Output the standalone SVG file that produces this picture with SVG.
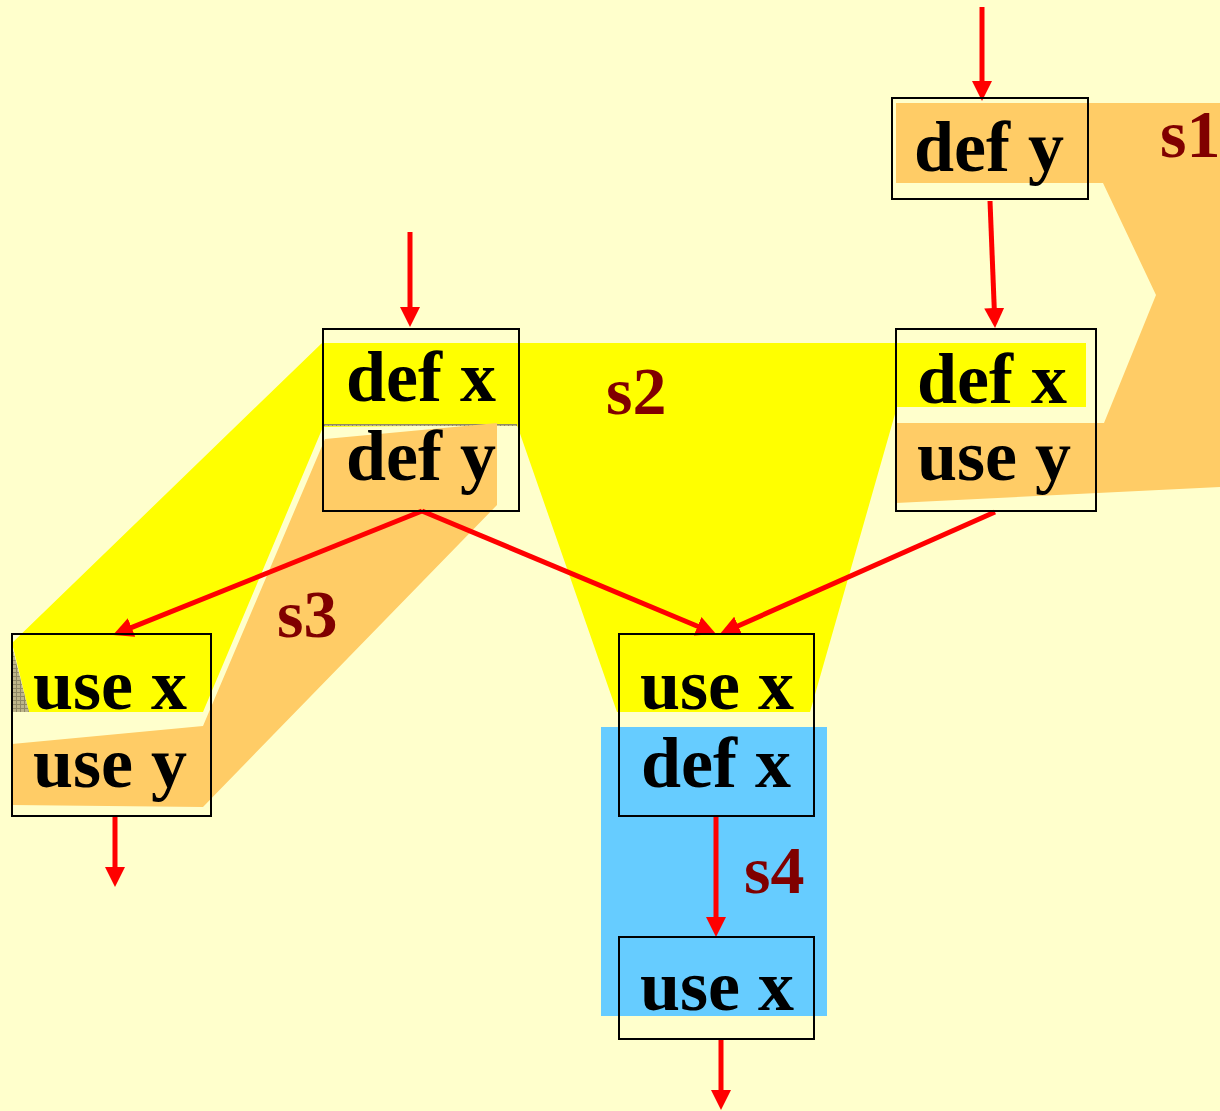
<svg xmlns="http://www.w3.org/2000/svg" width="1220" height="1111" viewBox="0 0 1220 1111">
<style>
.box{fill:none;stroke:#000;stroke-width:2}
.t{font-family:"Liberation Serif","Times New Roman",serif;font-weight:bold;font-size:72px;fill:#000}
.lbl{font-family:"Liberation Serif","Times New Roman",serif;font-weight:bold;font-size:68px;fill:#800000}
.arr{stroke:#FF0000;stroke-width:5;fill:none;marker-end:url(#ah)}
</style>
<defs>
<marker id="ah" markerUnits="userSpaceOnUse" markerWidth="22" markerHeight="22" refX="9" refY="10" orient="auto">
<path d="M0,0 L20,10 L0,20 z" fill="#FF0000"/>
</marker>
<pattern id="hatch" patternUnits="userSpaceOnUse" width="4" height="4">
<rect width="4" height="4" fill="#BDB58A"/>
<path d="M0,0.5 H4 M0.5,0 V4" stroke="#8F8866" stroke-width="1"/>
</pattern>
</defs>
<rect width="1220" height="1111" fill="#FFFFCC"/>
<g id="regions">
<polygon id="s1" points="896,103 1220,103 1220,487 896,503 896,423 1104,423 1156,295 1103,183 896,183" fill="#FFCC66"/>
<polygon id="s2" points="322,343 1086,343 1086,407 897,407 810,712 617,712 517,425 323,427 203,712 29,712 12,643" fill="#FFFF00"/>
<polygon id="hatchArea" points="12,646 29,712 12,712" fill="url(#hatch)"/>
<rect x="323" y="424" width="194" height="2" fill="url(#hatch)"/>
<polygon id="s3" points="325,439 497,423 497,505 203,807 12,805 12,744 203,726" fill="#FFCC66"/>
<rect id="s4" x="601" y="727" width="226" height="289" fill="#66CCFF"/>
<text class="lbl" x="1160" y="157">s1</text>
<text class="lbl" x="606" y="414">s2</text>
<text class="lbl" x="277" y="637">s3</text>
<text class="lbl" x="744" y="893">s4</text>
</g>
<g id="connectors">
<path class="arr" d="M982,7 L982,90"/>
<path class="arr" d="M990,201 L994.6,317"/>
<path class="arr" d="M410,232 L410,316"/>
<path class="arr" d="M422,511 L123.2,630.9"/>
<path class="arr" d="M422,511 L705.9,629.7"/>
<path class="arr" d="M995,512 L730,629.5"/>
<path class="arr" d="M716,817 L716,926"/>
<path class="arr" d="M115,817 L115,876"/>
<path class="arr" d="M721,1039 L721,1099"/>
</g>
<g id="nodeA">
<rect class="box" x="892" y="98" width="196" height="101"/>
<text class="t" x="914" y="171">def y</text>
</g>
<g id="nodeB">
<rect class="box" x="896" y="329" width="200" height="182"/>
<text class="t" x="917" y="403">def x</text>
<text class="t" x="917" y="480">use y</text>
</g>
<g id="nodeC">
<rect class="box" x="323" y="329" width="196" height="182"/>
<text class="t" x="346" y="401">def x</text>
<text class="t" x="346" y="480">def y</text>
</g>
<g id="nodeD">
<rect class="box" x="12" y="634" width="199" height="182"/>
<text class="t" x="33" y="709">use x</text>
<text class="t" x="33" y="787">use y</text>
</g>
<g id="nodeE">
<rect class="box" x="619" y="634" width="195" height="182"/>
<text class="t" x="640" y="709">use x</text>
<text class="t" x="641" y="787">def x</text>
</g>
<g id="nodeF">
<rect class="box" x="619" y="937" width="195" height="102"/>
<text class="t" x="640" y="1010">use x</text>
</g>
</svg>
